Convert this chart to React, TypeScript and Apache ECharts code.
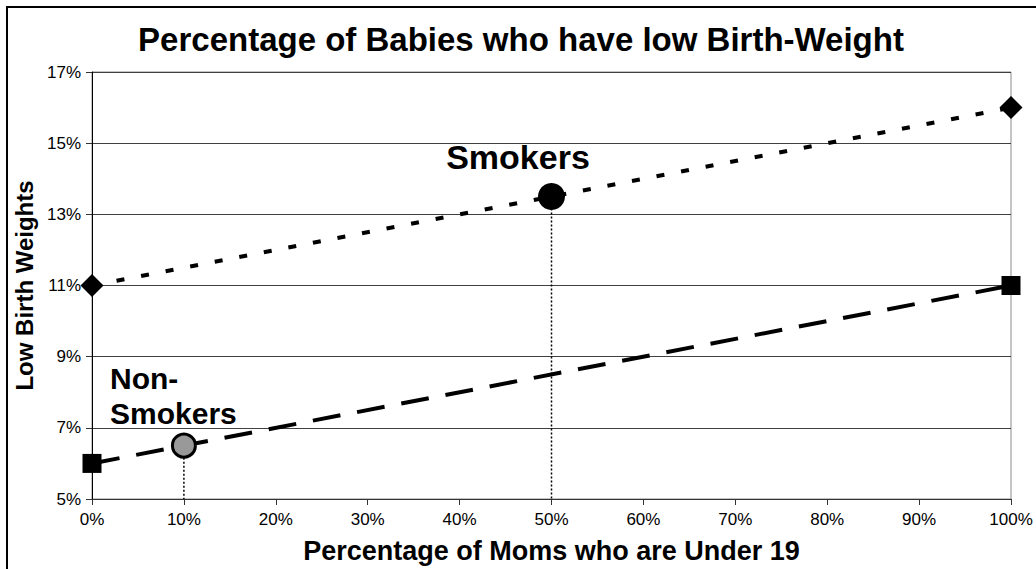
import React, { useEffect, useRef } from "react";
import * as echarts from "echarts";

const title = "Percentage of Babies who have low Birth-Weight";
const xName = "Percentage of Moms who are Under 19";
const yName = "Low Birth Weights";

const endpointsX = [0, 100];
const smokersY = [11, 16];
const nonSmokersY = [6, 11];

const smokerPoint = [50, 13.5];
const nonSmokerPoint = [10, 6.5];

const yMin = 5;
const yMax = 17;
const yStep = 2;
const xMin = 0;
const xMax = 100;
const xStep = 10;

const FONT = "'Liberation Sans', Arial, sans-serif";

export default function App() {
  const ref = useRef<HTMLDivElement>(null);

  useEffect(() => {
    if (!ref.current) return;
    const chart = echarts.init(ref.current, null, { renderer: "svg" });
    const option: any = {
      animation: false,
      backgroundColor: "#ffffff",
      textStyle: { fontFamily: FONT },
      grid: {
        left: 92,
        right: 25,
        top: 72,
        bottom: 70,
        show: true,
        borderColor: "#8a8a8a",
        borderWidth: 1,
        backgroundColor: "transparent",
      },
      xAxis: {
        type: "value",
        min: xMin,
        max: xMax,
        interval: xStep,
        name: xName,
        nameLocation: "middle",
        nameGap: 38,
        nameTextStyle: { fontSize: 27, fontWeight: "bold", color: "#000", fontFamily: FONT },
        axisLine: { show: true, lineStyle: { color: "#333", width: 1 } },
        axisTick: { show: true, length: 6, lineStyle: { color: "#333" } },
        axisLabel: { formatter: "{value}%", fontSize: 17, color: "#000", margin: 12, fontFamily: FONT },
        splitLine: { show: false },
      },
      yAxis: {
        type: "value",
        min: yMin,
        max: yMax,
        interval: yStep,
        name: yName,
        nameLocation: "middle",
        nameGap: 54,
        nameRotate: 90,
        nameTextStyle: { fontSize: 24, fontWeight: "bold", color: "#000", fontFamily: FONT },
        axisLine: { show: true, lineStyle: { color: "#000", width: 1 } },
        axisTick: { show: true, length: 6, lineStyle: { color: "#333" } },
        axisLabel: { formatter: "{value}%", fontSize: 17, color: "#000", margin: 11, fontFamily: FONT },
        splitLine: { show: true, lineStyle: { color: "#404040", width: 1 } },
      },
      graphic: [
        {
          type: "rect",
          shape: { x: 7, y: 7, width: 1200, height: 800 },
          style: { fill: "none", stroke: "#000", lineWidth: 2 },
          z: 0,
          silent: true,
        },
        {
          type: "text",
          x: 521,
          y: 39,
          style: {
            text: title,
            fontSize: 33,
            fontWeight: "bold",
            fontFamily: FONT,
            fill: "#000",
            textAlign: "center",
            textVerticalAlign: "middle",
          },
        },
        {
          type: "text",
          x: 518,
          y: 157,
          style: {
            text: "Smokers",
            fontSize: 34,
            fontWeight: "bold",
            fontFamily: FONT,
            fill: "#000",
            textAlign: "center",
            textVerticalAlign: "middle",
          },
          z: 100,
        },
        {
          type: "text",
          x: 110,
          y: 378,
          style: {
            text: "Non-",
            fontSize: 30,
            fontWeight: "bold",
            fontFamily: FONT,
            fill: "#000",
            textAlign: "left",
            textVerticalAlign: "middle",
          },
          z: 100,
        },
        {
          type: "text",
          x: 110,
          y: 413,
          style: {
            text: "Smokers",
            fontSize: 30,
            fontWeight: "bold",
            fontFamily: FONT,
            fill: "#000",
            textAlign: "left",
            textVerticalAlign: "middle",
          },
          z: 100,
        },
      ],
      series: [
        {
          name: "Smokers drop",
          type: "line",
          data: [
            [smokerPoint[0], smokerPoint[1]],
            [smokerPoint[0], yMin],
          ],
          symbol: "none",
          lineStyle: { color: "#000", width: 1.5, type: [2, 2] },
          z: 2,
        },
        {
          name: "Non-Smokers drop",
          type: "line",
          data: [
            [nonSmokerPoint[0], nonSmokerPoint[1]],
            [nonSmokerPoint[0], yMin],
          ],
          symbol: "none",
          lineStyle: { color: "#000", width: 1.5, type: [2, 2] },
          z: 2,
        },
        {
          name: "Smokers",
          type: "line",
          data: endpointsX.map((x, i) => [x, smokersY[i]]),
          symbol: "diamond",
          symbolSize: 23,
          itemStyle: { color: "#000", opacity: 1 },
          lineStyle: { color: "#000", width: 4, type: [8, 17], cap: "butt" },
          z: 3,
        },
        {
          name: "Non-Smokers",
          type: "line",
          data: endpointsX.map((x, i) => [x, nonSmokersY[i]]),
          symbol: "rect",
          symbolSize: 19,
          itemStyle: { color: "#000", opacity: 1 },
          lineStyle: { color: "#000", width: 4, type: [28, 17], cap: "butt" },
          z: 3,
        },
        {
          name: "Smokers point",
          type: "scatter",
          data: [smokerPoint],
          symbol: "circle",
          symbolSize: 27,
          itemStyle: { color: "#000", opacity: 1 },
          z: 4,
        },
        {
          name: "Non-Smokers point",
          type: "scatter",
          data: [nonSmokerPoint],
          symbol: "circle",
          symbolSize: 23,
          itemStyle: { color: "#999999", borderColor: "#000", borderWidth: 3, opacity: 1 },
          z: 4,
        },
      ],
    };
    chart.setOption(option);
    return () => chart.dispose();
  }, []);

  return (
    <div
      ref={ref}
      style={{ position: "fixed", left: 0, top: 0, width: 1036, height: 569, background: "#fff" }}
    />
  );
}
